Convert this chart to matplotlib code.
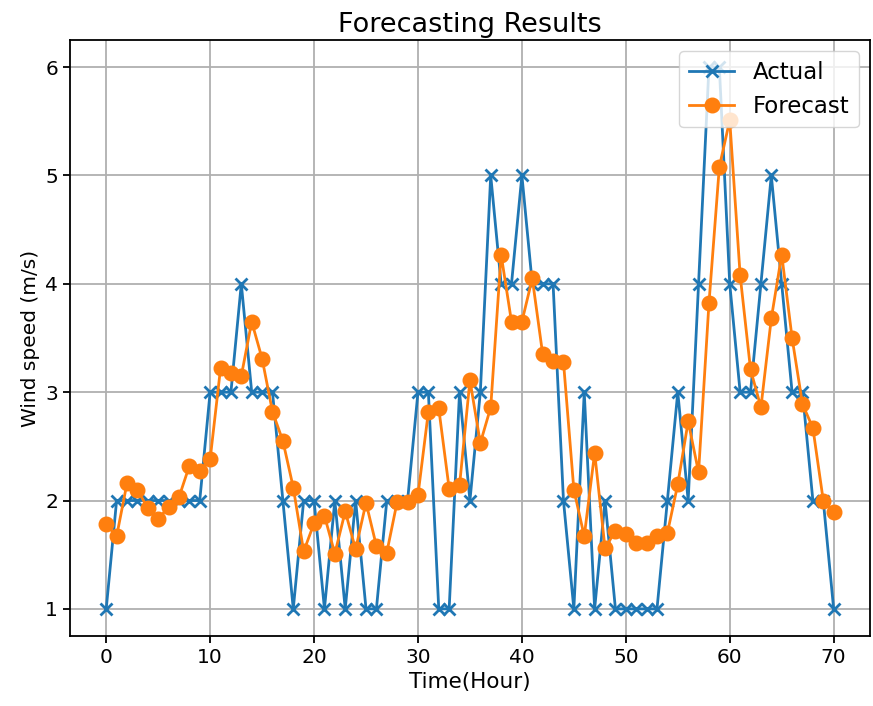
import numpy as np
import matplotlib
matplotlib.use('Agg')
import matplotlib.pyplot as plt

# hourly wind speed
hours = np.arange(71)
actual = [1, 2, 2, 2, 2, 2, 2, 2, 2, 2,
          3, 3, 3, 4, 3, 3, 3, 2, 1, 2,
          2, 1, 2, 1, 2, 1, 1, 2, 2, 2,
          3, 3, 1, 1, 3, 2, 3, 5, 4, 4,
          5, 4, 4, 4, 2, 1, 3, 1, 2, 1,
          1, 1, 1, 1, 2, 3, 2, 4, 6, 6,
          4, 3, 3, 4, 5, 4, 3, 3, 2, 2,
          1]
forecast = [1.78, 1.67, 2.16, 2.10, 1.93, 1.83, 1.94, 2.03, 2.32, 2.27,
            2.38, 3.22, 3.18, 3.15, 3.65, 3.31, 2.82, 2.55, 2.12, 1.53,
            1.79, 1.86, 1.51, 1.90, 1.55, 1.98, 1.58, 1.52, 1.99, 1.99,
            2.05, 2.82, 2.85, 2.11, 2.14, 3.11, 2.53, 2.86, 4.27, 3.65,
            3.65, 4.05, 3.35, 3.29, 3.28, 2.10, 1.67, 2.44, 1.56, 1.72,
            1.69, 1.61, 1.61, 1.67, 1.70, 2.15, 2.73, 2.26, 3.82, 5.08,
            5.51, 4.08, 3.21, 2.86, 3.68, 4.27, 3.50, 2.89, 2.67, 2.00,
            1.89]

fig, ax = plt.subplots(figsize=(8.73, 7.06), dpi=100)
fig.subplots_adjust(left=0.080, right=0.9966, top=0.9433, bottom=0.0992)

ax.plot(hours, actual, marker='x', color='#1f77b4', linewidth=2,
        markersize=8, markeredgewidth=2, label='Actual')
ax.plot(hours, forecast, marker='o', color='#ff7f0e', linewidth=2,
        markersize=10.5, label='Forecast')

ax.set_title('Forecasting Results', fontsize=19.5)
ax.set_xlabel('Time(Hour)', fontsize=15.5)
ax.set_ylabel('Wind speed (m/s)', fontsize=14.5)
ax.tick_params(labelsize=14.5, width=1.3, length=5)
for s in ax.spines.values():
    s.set_linewidth(1.3)
ax.grid(True, linewidth=1.3)
ax.legend(loc='upper right', fontsize=16.5)

plt.savefig('out.png', dpi=100)
plt.close()
